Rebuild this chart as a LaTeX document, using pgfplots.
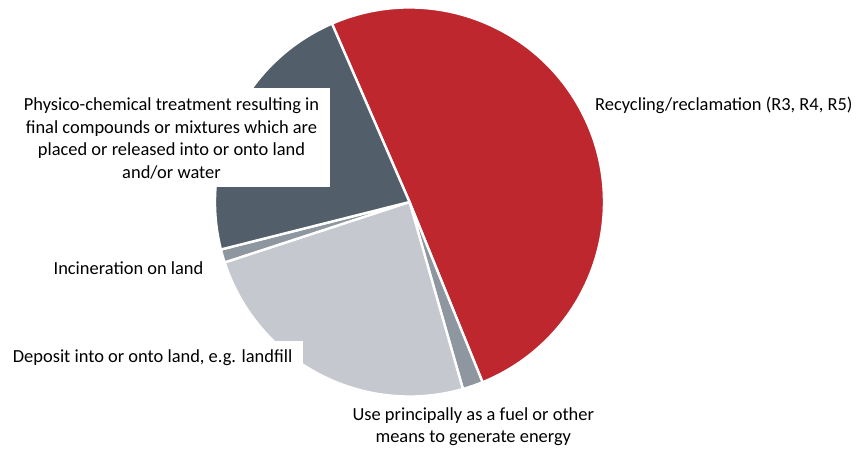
\documentclass[border=0pt]{standalone}
\usepackage{fontspec}
\setmainfont{Carlito}
\usepackage{pgfplots}
\usepackage{pgfplotstable}
\pgfplotsset{compat=1.18}

\definecolor{recred}{HTML}{BF272E}
\definecolor{fuelgray}{HTML}{8E979F}
\definecolor{depgray}{HTML}{C5C9CF}
\definecolor{incgray}{HTML}{8E979F}
\definecolor{physslate}{HTML}{525F6B}

\tikzset{lbl/.style={font=\fontsize{18.5}{22.6}\selectfont, inner sep=0pt, align=center}}

% shares in percent, clockwise from the top boundary
\pgfplotstableread{
pct  col
50.4 recred
1.7  fuelgray
24.4 depgray
1.1  incgray
22.4 physslate
}\piedata

\begin{document}
\begin{tikzpicture}
\begin{axis}[name=pie, anchor=origin, at={(0,0)}, x=1bp, y=1bp,
  xmin=0, xmax=859, ymin=0, ymax=451, hide axis, clip=false]
\xdef\cur{113.5}
\pgfplotsforeachungrouped \i in {0,...,4} {
  \pgfplotstablegetelem{\i}{pct}\of\piedata \let\p\pgfplotsretval
  \pgfplotstablegetelem{\i}{col}\of\piedata \let\c\pgfplotsretval
  \pgfmathsetmacro\nxt{\cur-3.6*\p}
  \edef\temp{\noexpand\fill[\c, draw=white, line width=2.4bp, line join=round]
    (axis cs:409.5,249) -- ++(\cur:194.5bp)
    arc[start angle=\cur, end angle=\nxt, radius=194.5bp] -- cycle;}
  \temp
  \xdef\cur{\nxt}
}
% label boxes over the pie
\fill[white] (axis cs:15,264) rectangle (axis cs:330,363);
\fill[white] (axis cs:5,76) rectangle (axis cs:303,110);
\node[lbl] at (axis cs:171.5,312.5) {Physico-chemical treatment resulting in\\final compounds or mixtures which are\\placed or released into or onto land\\and/or water};
\node[lbl, anchor=west] at (axis cs:595,346) {Recycling/reclamation (R3, R4, R5)};
\node[lbl] at (axis cs:128.5,183) {Incineration on land};
\node[lbl, anchor=west] at (axis cs:12.7,93) {Deposit into or onto land, e.g. landfill};
\node[lbl] at (axis cs:473.3,24.5) {Use principally as a fuel or other\\means to generate energy};
\end{axis}
\pgfresetboundingbox
\path (pie.south west) rectangle (pie.north east);
\end{tikzpicture}
\end{document}
